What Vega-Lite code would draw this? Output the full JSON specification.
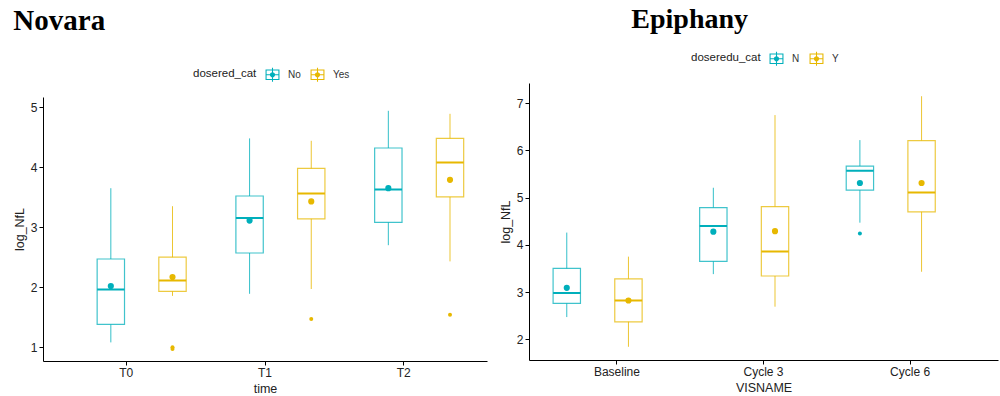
{
  "$schema": "https://vega.github.io/schema/vega-lite/v6.json",
  "background": "white",
  "padding": {"left": 13, "top": 6, "right": 2, "bottom": 2},
  "spacing": 12,
  "config": {
    "view": {"stroke": null},
    "font": "Liberation Sans",
    "axis": {"domainColor": "#000", "tickColor": "#000", "labelColor": "#222", "titleColor": "#222", "labelFontSize": 12, "titleFontSize": 12.5, "titleFontWeight": "normal", "grid": false, "tickSize": 4, "labelPadding": 2, "titlePadding": 4},
    "legend": {"labelFontSize": 10, "labelColor": "#333", "titleFontSize": 11.5, "titleFontWeight": "normal", "titleColor": "#222"}
  },
  "resolve": {"scale": {"color": "independent"}, "legend": {"color": "independent"}},
  "hconcat": [
    {
      "width": 444, "height": 278,
      "title": {"text": "Novara", "anchor": "start", "font": "Liberation Serif", "fontSize": 29, "fontWeight": "bold", "color": "#000", "offset": 30},
      "data": {"values": [
        {"time": "T0", "grp": "No", "ymin": 1.08, "lower": 1.38, "middle": 1.96, "upper": 2.47, "ymax": 3.65, "mean": 2.02},
        {"time": "T0", "grp": "Yes", "ymin": 1.855, "lower": 1.93, "middle": 2.11, "upper": 2.50, "ymax": 3.35, "mean": 2.17},
        {"time": "T1", "grp": "No", "ymin": 1.89, "lower": 2.57, "middle": 3.155, "upper": 3.52, "ymax": 4.48, "mean": 3.11},
        {"time": "T1", "grp": "Yes", "ymin": 1.97, "lower": 3.14, "middle": 3.56, "upper": 3.98, "ymax": 4.44, "mean": 3.43},
        {"time": "T2", "grp": "No", "ymin": 2.70, "lower": 3.08, "middle": 3.63, "upper": 4.32, "ymax": 4.94, "mean": 3.65},
        {"time": "T2", "grp": "Yes", "ymin": 2.43, "lower": 3.505, "middle": 4.08, "upper": 4.48, "ymax": 4.89, "mean": 3.79}
      ]},
      "encoding": {
        "x": {"field": "time", "type": "nominal", "scale": {"type": "band", "paddingInner": 0, "paddingOuter": 0.1}, "axis": {"labelAngle": 0, "title": "time"}},
        "xOffset": {"field": "grp", "type": "nominal", "scale": {"paddingInner": 0.1125, "paddingOuter": 0.306}}
      },
      "layer": [
        {"data": {"values": [
          {"time": "T0", "grp": "Yes", "value": 0.97},
          {"time": "T0", "grp": "Yes", "value": 1.0},
          {"time": "T1", "grp": "Yes", "value": 1.47},
          {"time": "T2", "grp": "Yes", "value": 1.54}
         ]},
         "mark": {"type": "circle", "size": 16, "opacity": 1},
         "encoding": {"y": {"field": "value", "type": "quantitative", "scale": {"domain": [0.77, 5.17], "range": [278, 14], "nice": false, "zero": false}, "axis": {"values": [1, 2, 3, 4, 5], "format": "d", "title": "log_NfL"}},
           "color": {"field": "grp", "type": "nominal", "title": "dosered_cat", "scale": {"domain": ["No", "Yes"], "range": ["#00AFBB", "#E7B800"]},
             "legend": {"orient": "none", "legendX": 150, "legendY": -17, "direction": "horizontal", "titleOrient": "left", "titlePadding": 7, "labelOffset": 7, "columnPadding": 8,
               "symbolType": "M-0.85,-0.65H0.85V0.65H-0.85Z M-0.72,-0.52V0.52H0.72V-0.52Z M-0.065,-0.85H0.065V0.85H-0.065Z M-0.72,-0.065H0.72V0.065H-0.72Z M0.32,0A0.32,0.32 0 1,1 -0.32,0A0.32,0.32 0 1,1 0.32,0Z",
               "symbolSize": 269, "symbolStrokeWidth": 0, "symbolOpacity": 1}}}},
        {"mark": {"type": "rule", "strokeWidth": 1, "strokeOpacity": 0.8},
         "encoding": {"y": {"field": "ymin", "type": "quantitative"}, "y2": {"field": "lower"},
           "color": {"field": "grp", "type": "nominal"}}},
        {"mark": {"type": "rule", "strokeWidth": 1, "strokeOpacity": 0.8},
         "encoding": {"y": {"field": "upper", "type": "quantitative"}, "y2": {"field": "ymax"},
           "color": {"field": "grp", "type": "nominal"}}},
        {"mark": {"type": "bar", "filled": false, "strokeWidth": 1.2, "strokeOpacity": 0.75},
         "encoding": {"y": {"field": "lower", "type": "quantitative"}, "y2": {"field": "upper"},
           "color": {"field": "grp", "type": "nominal"}}},
        {"mark": {"type": "bar", "filled": false, "strokeWidth": 2, "strokeOpacity": 1},
         "encoding": {"y": {"field": "middle", "type": "quantitative"}, "y2": {"field": "middle"},
           "color": {"field": "grp", "type": "nominal"}}},
        {"mark": {"type": "circle", "size": 38, "opacity": 1},
         "encoding": {"y": {"field": "mean", "type": "quantitative"},
           "color": {"field": "grp", "type": "nominal"}}}
      ]
    },
    {
      "width": 469, "height": 277,
      "title": {"text": "Epiphany", "anchor": "start", "font": "Liberation Serif", "fontSize": 28, "fontWeight": "bold", "color": "#000", "offset": 16, "dx": 132},
      "data": {"values": [
        {"VISNAME": "Baseline", "grp": "N", "ymin": 2.47, "lower": 2.76, "middle": 2.98, "upper": 3.50, "ymax": 4.26, "mean": 3.09},
        {"VISNAME": "Baseline", "grp": "Y", "ymin": 1.84, "lower": 2.37, "middle": 2.82, "upper": 3.28, "ymax": 3.75, "mean": 2.82},
        {"VISNAME": "Cycle 3", "grp": "N", "ymin": 3.38, "lower": 3.65, "middle": 4.40, "upper": 4.79, "ymax": 5.21, "mean": 4.28},
        {"VISNAME": "Cycle 3", "grp": "Y", "ymin": 2.69, "lower": 3.34, "middle": 3.86, "upper": 4.81, "ymax": 6.75, "mean": 4.29},
        {"VISNAME": "Cycle 6", "grp": "N", "ymin": 4.47, "lower": 5.16, "middle": 5.57, "upper": 5.67, "ymax": 6.22, "mean": 5.31},
        {"VISNAME": "Cycle 6", "grp": "Y", "ymin": 3.43, "lower": 4.70, "middle": 5.11, "upper": 6.21, "ymax": 7.15, "mean": 5.31}
      ]},
      "encoding": {
        "x": {"field": "VISNAME", "type": "nominal", "scale": {"type": "band", "paddingInner": 0, "paddingOuter": 0.1}, "axis": {"labelAngle": 0, "title": "VISNAME"}},
        "xOffset": {"field": "grp", "type": "nominal", "scale": {"paddingInner": 0.1125, "paddingOuter": 0.306}}
      },
      "layer": [
        {"data": {"values": [
          {"VISNAME": "Cycle 6", "grp": "N", "value": 4.24}
         ]},
         "mark": {"type": "circle", "size": 16, "opacity": 1},
         "encoding": {"y": {"field": "value", "type": "quantitative", "scale": {"domain": [1.56, 7.43], "nice": false, "zero": false}, "axis": {"values": [2, 3, 4, 5, 6, 7], "format": "d", "title": "log_NfL"}},
           "color": {"field": "grp", "type": "nominal", "title": "doseredu_cat", "scale": {"domain": ["N", "Y"], "range": ["#00AFBB", "#E7B800"]},
             "legend": {"orient": "none", "legendX": 162, "legendY": -33, "direction": "horizontal", "titleOrient": "left", "titlePadding": 7, "labelOffset": 7, "columnPadding": 8,
               "symbolType": "M-0.85,-0.65H0.85V0.65H-0.85Z M-0.72,-0.52V0.52H0.72V-0.52Z M-0.065,-0.85H0.065V0.85H-0.065Z M-0.72,-0.065H0.72V0.065H-0.72Z M0.32,0A0.32,0.32 0 1,1 -0.32,0A0.32,0.32 0 1,1 0.32,0Z",
               "symbolSize": 269, "symbolStrokeWidth": 0, "symbolOpacity": 1}}}},
        {"mark": {"type": "rule", "strokeWidth": 1, "strokeOpacity": 0.8},
         "encoding": {"y": {"field": "ymin", "type": "quantitative"}, "y2": {"field": "lower"},
           "color": {"field": "grp", "type": "nominal"}}},
        {"mark": {"type": "rule", "strokeWidth": 1, "strokeOpacity": 0.8},
         "encoding": {"y": {"field": "upper", "type": "quantitative"}, "y2": {"field": "ymax"},
           "color": {"field": "grp", "type": "nominal"}}},
        {"mark": {"type": "bar", "filled": false, "strokeWidth": 1.2, "strokeOpacity": 0.75},
         "encoding": {"y": {"field": "lower", "type": "quantitative"}, "y2": {"field": "upper"},
           "color": {"field": "grp", "type": "nominal"}}},
        {"mark": {"type": "bar", "filled": false, "strokeWidth": 2, "strokeOpacity": 1},
         "encoding": {"y": {"field": "middle", "type": "quantitative"}, "y2": {"field": "middle"},
           "color": {"field": "grp", "type": "nominal"}}},
        {"mark": {"type": "circle", "size": 38, "opacity": 1},
         "encoding": {"y": {"field": "mean", "type": "quantitative"},
           "color": {"field": "grp", "type": "nominal"}}}
      ]
    }
  ]
}
